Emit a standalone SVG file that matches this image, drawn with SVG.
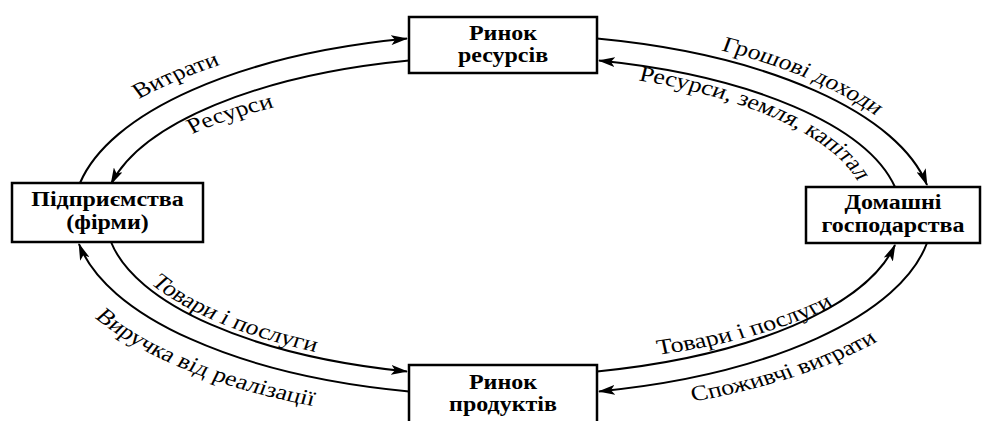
<svg xmlns="http://www.w3.org/2000/svg" xmlns:xlink="http://www.w3.org/1999/xlink" width="982" height="421" viewBox="0 0 982 421">
<style>
.box{fill:#fff;stroke:#000;stroke-width:2.5}
.bt{font-family:"Liberation Serif","Times New Roman",serif;font-weight:bold;font-size:20px;text-anchor:middle;fill:#000}
.lbl{font-family:"Liberation Serif","Times New Roman",serif;font-size:21.6px;fill:#000;text-anchor:middle}
.c{fill:none;stroke:#000;stroke-width:2;marker-end:url(#ah)}
</style>
<defs>
<marker id="ah" markerWidth="17" markerHeight="10" refX="16" refY="5" orient="auto" markerUnits="userSpaceOnUse">
<path d="M0,0 L17,5 L0,10 L4,5 z" fill="#000"/>
</marker>
<path id="p1" d="M114.2,100 A372,198 0 0,1 185.8,64"/>
<path id="p2" d="M600,50 A365,190 0 0,1 730,116"/>
<path id="p3" d="M160,134 A320,140 0 0,1 229.2,107"/>
<path id="p4" d="M530.8,80 A320,143 0 0,1 715,182"/>
<path id="p5" d="M125,283 A327,153 0 0,0 263.3,352"/>
<path id="p6" d="M547.5,355 A327,153 0 0,0 695.8,305"/>
<path id="p7" d="M79.2,318 A372,198 0 0,0 260,406"/>
<path id="p8" d="M575,402 A372,198 0 0,0 733.3,340"/>
</defs>
<rect width="982" height="421" fill="#fff"/>
<g id="connectors">
<path class="c" d="M80,183 A430,181 0 0,1 407,38.6"/>
<path class="c" d="M597,38.6 A430,181 0 0,1 927,185"/>
<path class="c" d="M927,243 A430,181 0 0,1 599,391.4"/>
<path class="c" d="M409,391.4 A430,181 0 0,1 79,244"/>
<path class="c" d="M409,60.5 A400,160 0 0,0 111,184"/>
<path class="c" d="M895,187 A400,160 0 0,0 599,60.5"/>
<path class="c" d="M597,371.5 A400,160 0 0,0 895,245"/>
<path class="c" d="M111,242 A400,160 0 0,0 407,371.5"/>
</g>
<g id="labels" transform="scale(1.2,1)">
<text class="lbl"><textPath xlink:href="#p1" startOffset="50%">Витрати</textPath></text>
<text class="lbl"><textPath xlink:href="#p2" startOffset="50%">Грошові доходи</textPath></text>
<text class="lbl"><textPath xlink:href="#p3" startOffset="50%">Ресурси</textPath></text>
<text class="lbl"><textPath xlink:href="#p4" startOffset="50%">Ресурси, земля, капітал</textPath></text>
<text class="lbl"><textPath xlink:href="#p5" startOffset="50%">Товари і послуги</textPath></text>
<text class="lbl"><textPath xlink:href="#p6" startOffset="50%">Товари і послуги</textPath></text>
<text class="lbl"><textPath xlink:href="#p7" startOffset="50%">Виручка від реалізації</textPath></text>
<text class="lbl"><textPath xlink:href="#p8" startOffset="50%">Споживчі витрати</textPath></text>
</g>
<g id="node-resources">
<rect class="box" x="409" y="17" width="188" height="56"/>
<text class="bt" transform="translate(503,0) scale(1.2,1)"><tspan x="0" y="40">Ринок</tspan><tspan x="0" y="62">ресурсів</tspan></text>
</g>
<g id="node-firms">
<rect class="box" x="12" y="183" width="191" height="59"/>
<text class="bt" transform="translate(107.5,0) scale(1.2,1)"><tspan x="0" y="206">Підприємства</tspan><tspan x="0" y="229">(фірми)</tspan></text>
</g>
<g id="node-households">
<rect class="box" x="806" y="187" width="174" height="56"/>
<text class="bt" transform="translate(893,0) scale(1.2,1)"><tspan x="0" y="209">Домашні</tspan><tspan x="0" y="232">господарства</tspan></text>
</g>
<g id="node-products">
<rect class="box" x="409" y="365" width="188" height="62"/>
<text class="bt" transform="translate(503,0) scale(1.2,1)"><tspan x="0" y="389">Ринок</tspan><tspan x="0" y="411">продуктів</tspan></text>
</g>
</svg>
